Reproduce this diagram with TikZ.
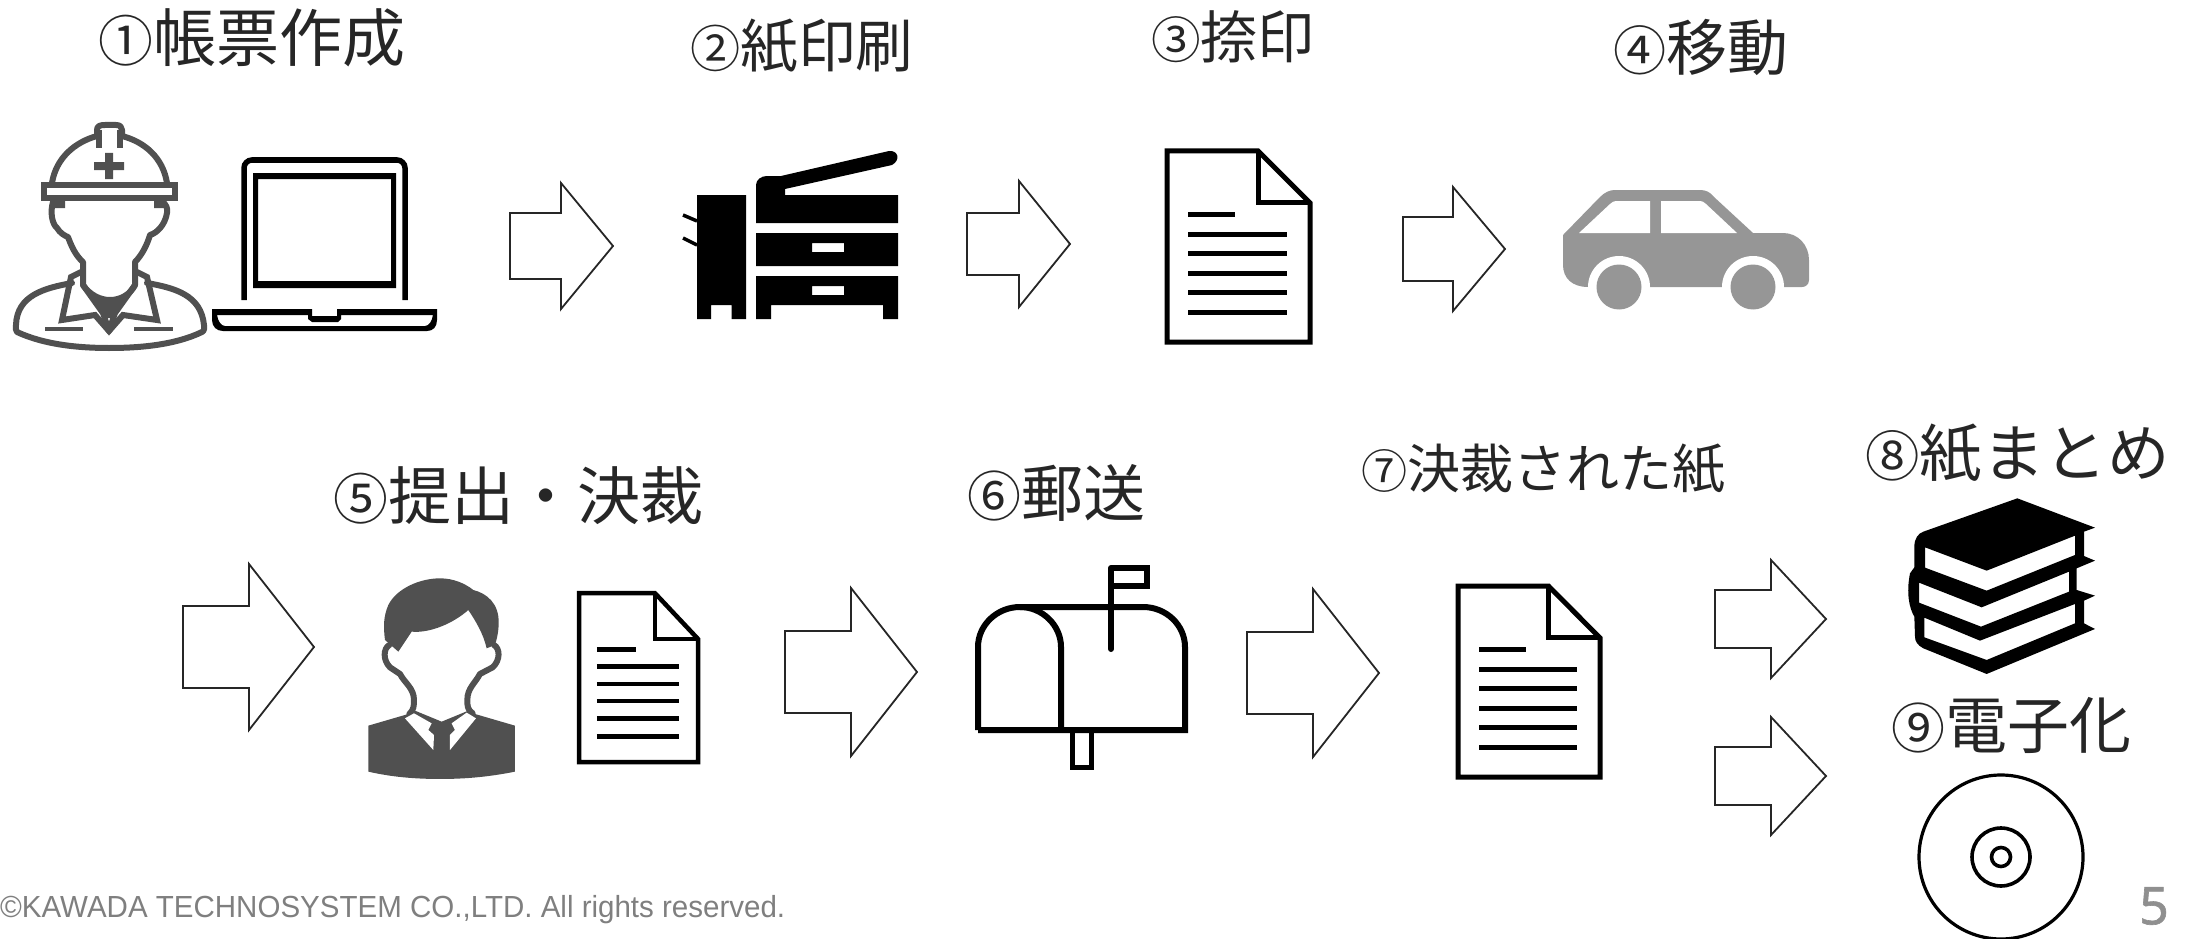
\documentclass[tikz,border=0pt]{standalone}
\usepackage{graphicx}
\usepackage{fontspec}
\setmainfont{Noto Sans CJK JP}
\newfontfamily\footfont{Liberation Sans}
\newfontfamily\pagefont[FakeBold=1.2]{Noto Sans}
\definecolor{ink}{HTML}{262626}
\definecolor{workergray}{HTML}{505050}
\definecolor{cargray}{HTML}{969696}
\definecolor{footgray}{HTML}{7F7F7F}
\definecolor{pagegray}{HTML}{8F8F8F}
\tikzset{
 lab/.style={anchor=west,inner sep=0pt,text=ink},
 blockarrow/.style={draw=ink,line width=1.8pt,fill=white,line join=miter},
 icon/.style={draw=black,line width=6pt,line join=miter},
 person/.style={draw=workergray,line width=6pt,line join=round,line cap=round},
}
% left, head x, tip x, mid y, half shaft, half head
\newcommand\blkarrow[6]{\draw[blockarrow] (#1,#4-#5) -- (#2,#4-#5) -- (#2,#4-#6) -- (#3,#4) -- (#2,#4+#6) -- (#2,#4+#5) -- (#1,#4+#5) -- cycle;}
% x,y,w,h,line width
\newcommand\docicon[5]{\begin{scope}[shift={(#1,#2)},x=#3pt,y=-#4pt]
 \draw[black,line width=#5pt,line join=miter] (0,0) -- (.637,0) -- (1,.272) -- (1,1) -- (0,1) -- cycle;
 \draw[black,line width=#5pt,line join=miter] (.637,0) -- (.637,.272) -- (1,.272);
 \foreach \yy in {.435,.539,.639,.743,.848} \draw[black,line width=#5pt] (.15,\yy) -- (.84,\yy);
 \draw[black,line width=#5pt] (.15,.335) -- (.478,.335);
\end{scope}}
\newcommand\cjklab[3]{\pgfmathparse{#1*.87}\fontsize{\pgfmathresult}{70}\selectfont #2\fontsize{#1}{70}\selectfont #3}
\begin{document}
\begin{tikzpicture}[x=1pt,y=-1pt]
\useasboundingbox (0,0) rectangle (2195,939);
% labels
\node[lab] (l1) at (98,38) {\cjklab{63}{①}{帳票作成}};
\node[lab] (l2) at (690,46) {\cjklab{57.7}{②}{紙印刷}};
\node[lab] (l3) at (1151,37) {\cjklab{57}{③}{捺印}};
\node[lab] (l4) at (1613,47) {\cjklab{61}{④}{移動}};
\node[lab] (l5) at (333,496) {\cjklab{63}{⑤}{提出・決裁}};
\node[lab] (l6) at (967,493) {\cjklab{62}{⑥}{郵送}};
\node[lab] (l7) at (1361,469) {\cjklab{53}{⑦}{決裁された紙}};
\node[lab] (l8) at (1865,453) {\cjklab{62.5}{⑧}{紙まとめ}};
\node[lab] (l9) at (1891,725) {\cjklab{62}{⑨}{電子化}};
\node[anchor=base west,inner sep=0pt,text=footgray,font=\footfont\fontsize{30.5}{34}\selectfont] (foot) at (0,917) {\resizebox{785pt}{\height}{©KAWADA TECHNOSYSTEM CO.,LTD. All rights reserved.}};
\node[anchor=center,inner sep=0pt,text=pagegray,font=\pagefont\fontsize{52}{60}\selectfont] (pg) at (2154,906) {5};
% arrows
\blkarrow{510}{561}{613}{246}{33}{63}
\blkarrow{967}{1019}{1070}{244}{31}{63}
\blkarrow{1403}{1453}{1505}{249}{32}{62}
\blkarrow{183}{249}{314}{647}{41}{83}
\blkarrow{785}{851}{917}{672}{41}{84}
\blkarrow{1247}{1313}{1379}{673}{41}{84}
\blkarrow{1715}{1771}{1826}{619}{29}{59}
\blkarrow{1715}{1771}{1826}{776}{29}{59}
% worker
\draw[person] (52,183) .. controls (56,158) and (75,142) .. (97,136) -- (97,130) .. controls (97,126) and (100,125) .. (105,125) -- (116,125) .. controls (120,125) and (122,127) .. (122,130) -- (122,136) .. controls (145,142) and (163,158) .. (167,183);
\draw[person,line cap=butt] (99,130) -- (99,148) (120,130) -- (120,148);
\draw[person,line width=6pt,line join=miter] (44,185) rectangle (175,198);
\fill[workergray] (94,162) rectangle (124,170) (105,153) rectangle (113,179);
\draw[person] (53,202) .. controls (50,212) and (52,224) .. (57,228) .. controls (60,233) and (65,236) .. (68,237) .. controls (71,245) and (75,255) .. (83,262) -- (83,285) .. controls (90,295) and (100,300) .. (110,300) .. controls (120,300) and (130,295) .. (135,285) -- (135,262) .. controls (142,255) and (147,245) .. (150,235) .. controls (157,233) and (165,225) .. (167,213) .. controls (168,208) and (166,205) .. (163,202);
\fill[workergray] (52,201) rectangle (65,208) (154,201) rectangle (166,208);
\draw[person] (72,283) .. controls (45,288) and (17,295) .. (16,325) .. controls (16,328) and (15,330) .. (17,332) .. controls (45,345) and (80,348) .. (109,348) .. controls (140,348) and (175,345) .. (202,332) .. controls (205,330) and (204,328) .. (204,325) .. controls (201,295) and (175,288) .. (147,283);
\draw[person,line join=miter] (81,272) -- (71,277) -- (62,320) -- (95,315) -- (109,331) -- (123,315) -- (157,320) -- (147,277) -- (137,272);
\draw[person] (83,285) -- (103,313) -- (109,331) -- (115,313) -- (135,285);
\fill[workergray] (90,296) .. controls (100,300) and (120,300) .. (128,296) -- (112,318) -- (106,318) -- cycle;
\draw[person,line cap=butt,line width=4pt] (45,329) -- (83,329) (134,329) -- (173,329);
% laptop
\draw[black,line width=5.5pt,rounded corners=8pt] (244,300) -- (244,160) -- (405,160) -- (405,300);
\fill[black,even odd rule] (253,173) rectangle (396,288) (258,179) rectangle (391,281);
\fill[black,even odd rule] (212,309) -- (312,309) -- (312,316) -- (337,316) -- (337,309) -- (437,309) -- (437,320) .. controls (437,327) and (433,331) .. (427,331) -- (223,331) .. controls (217,331) and (212,327) .. (212,320) -- cycle
 (217,315) -- (308,315) -- (308,319) -- (312,322) -- (338,322) -- (341,319) -- (341,315) -- (433,315) .. controls (432,321) and (429,326) .. (425,326) -- (225,326) .. controls (221,326) and (218,321) .. (217,315) -- cycle;
% printer
\fill[black] (697,195) -- (746,195) -- (746,319) -- (731.5,319) -- (731.5,305) -- (711,305) -- (711,319) -- (697,319) -- cycle;
\draw[black,line width=3.5pt] (683,215) -- (697,221) (683,238) -- (697,245);
\fill[black] (756,223) -- (756,185) .. controls (756,180) and (761,176) .. (767,176) -- (781,176) -- (889,151) .. controls (898,150) and (901,160) .. (892,165) -- (785,189) -- (785,195) -- (898,195) -- (898,223) -- cycle;
\fill[black,even odd rule] (756,233) rectangle (898,266) (812,243) rectangle (844,252);
\fill[black,even odd rule] (756,276) -- (898,276) -- (898,319) -- (883,319) -- (883,305) -- (771,305) -- (771,319) -- (756,319) -- cycle (812,286) rectangle (844,295);
% documents
\docicon{1167}{151}{143}{191}{5}
\docicon{579}{593}{119}{169}{4.5}
\docicon{1458}{586}{142}{191}{5}
% car
\fill[cargray] (1563,235) -- (1600,197) .. controls (1605,192) and (1610,190) .. (1615,190) -- (1700,190) .. controls (1706,190) and (1710,192) .. (1714,197) -- (1753,233) -- (1783,233) .. controls (1798,233) and (1809,245) .. (1809,260) -- (1809,280) .. controls (1809,285) and (1805,287) .. (1802,287) -- (1588,287) .. controls (1572,287) and (1563,278) .. (1563,265) -- cycle;
\fill[white] (1619,287) circle[radius=31] (1753,287) circle[radius=31];
\fill[cargray] (1619,287) circle[radius=22.5] (1753,287) circle[radius=22.5];
\fill[white] (1579,233) -- (1610,204) .. controls (1612,202) and (1614,201) .. (1616,201) -- (1650,201) -- (1650,233) -- cycle (1661,201) -- (1700,201) .. controls (1702,201) and (1704,202) .. (1706,204) -- (1737,233) -- (1661,233) -- cycle;
% business person
\begin{scope}[shift={(340,560)},x=.3333pt,y=-.3333pt]
\fill[workergray] (135,240) .. controls (130,200) and (130,170) .. (145,135) .. controls (170,85) and (240,55) .. (300,55) .. controls (340,55) and (375,70) .. (400,90) .. controls (440,100) and (478,130) .. (476,190) .. controls (476,215) and (470,240) .. (465,255) -- (440,265) .. controls (430,220) and (405,180) .. (385,150) .. controls (340,190) and (270,220) .. (215,215) -- (175,275) -- cycle;
\draw[person] (148,255) .. controls (130,265) and (128,300) .. (150,322) -- (180,342) .. controls (195,370) and (222,385) .. (222,420) .. controls (222,435) and (222,450) .. (208,462);
\draw[person] (462,255) .. controls (480,265) and (482,300) .. (458,322) -- (420,342) .. controls (405,370) and (382,385) .. (382,420) .. controls (382,435) and (382,450) .. (398,460);
\fill[workergray] (85,497) -- (205,462) -- (225,452) -- (305,485) -- (385,452) -- (405,462) -- (525,497) -- (525,635) .. controls (450,650) and (380,657) .. (300,657) .. controls (220,657) and (150,650) .. (85,635) -- cycle;
\fill[white] (195,475) -- (222,460) -- (275,490) -- (265,510) -- (282,525) -- (280,570) -- cycle (408,475) -- (380,458) -- (335,490) -- (345,510) -- (330,525) -- (330,570) -- cycle;
\end{scope}
% mailbox
\draw[icon] (978,730) -- (978,647) .. controls (978,625) and (997,607) .. (1020,607) .. controls (1042,607) and (1061,625) .. (1061,647) -- (1061,730);
\draw[icon] (978,730) -- (1185,730) -- (1185,647) .. controls (1185,625) and (1166,607) .. (1143,607) -- (1020,607);
\draw[icon,line cap=round] (1111,649) -- (1111,568);
\draw[icon] (1111,568) -- (1147,568) -- (1147,586) -- (1111,586);
\draw[icon,line width=5pt] (1072,732) -- (1072,767) -- (1091,767) -- (1091,732);
% books
\begin{scope}[shift={(1880,480)},x=.3333pt,y=-.3333pt]
\fill[black,even odd rule] (412,55) -- (645,143) -- (612,155) -- (612,228) -- (645,242) -- (590,265) -- (590,330) -- (645,347) -- (612,362) -- (612,430) -- (645,447) -- (320,582) -- (130,505) .. controls (112,495) and (105,485) .. (105,470) -- (103,410) .. controls (88,385) and (78,340) .. (90,280) -- (103,262) -- (103,200) .. controls (103,175) and (115,160) .. (130,155) -- cycle
 (135,202) -- (320,272) -- (585,167) -- (585,225) -- (320,332) -- (135,263) -- cycle
 (117,308) -- (305,382) -- (567,275) -- (567,335) -- (303,440) -- (117,368) -- cycle
 (133,413) -- (300,482) -- (585,372) -- (585,430) -- (320,540) -- (133,472) -- cycle;
\end{scope}
% disc
\draw[black,line width=3.2pt] (2001,857) circle[radius=82];
\draw[black,line width=3.6pt] (2001,857) circle[radius=29];
\draw[black,line width=3.6pt] (2001,857) circle[radius=9.5];
\end{tikzpicture}
\end{document}
